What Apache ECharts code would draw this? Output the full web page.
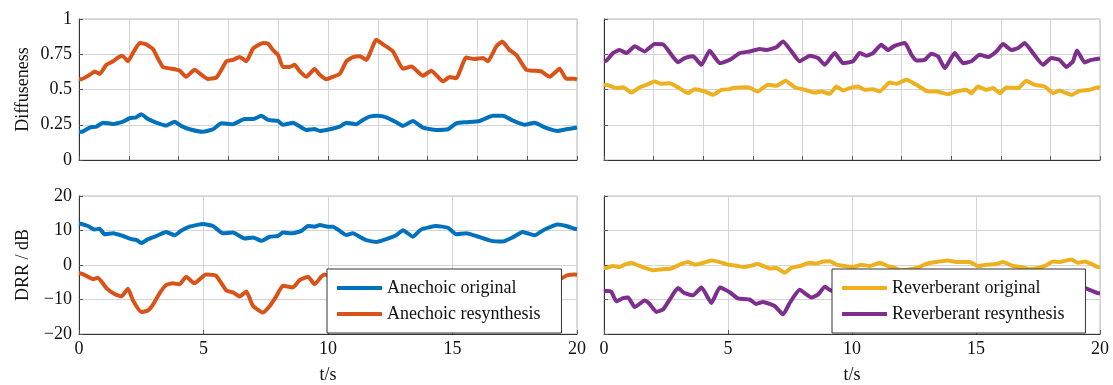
<!DOCTYPE html>
<html>
<head>
<meta charset="utf-8">
<script src="https://cdn.jsdelivr.net/npm/echarts@6/dist/echarts.min.js"></script>
<style>
  html, body { margin: 0; padding: 0; background: #fff; }
  #main { width: 1113px; height: 385px; }
</style>
</head>
<body>
<div id="main"></div>
<script>
// [t in s, value]
var diffAnechoicOrig = [[0,0.20],[0.1,0.20],[0.43,0.23],[0.7,0.237],[0.96,0.265],[1.37,0.256],[1.77,0.272],[2.03,0.296],[2.3,0.303],[2.5,0.325],[2.77,0.29],[3.1,0.265],[3.5,0.244],[3.84,0.272],[4.1,0.242],[4.44,0.218],[4.98,0.20],[5.38,0.218],[5.72,0.26],[6.18,0.254],[6.65,0.29],[6.99,0.29],[7.32,0.313],[7.59,0.284],[7.99,0.277],[8.19,0.25],[8.59,0.265],[9.13,0.213],[9.46,0.22],[9.67,0.206],[10.07,0.218],[10.47,0.237],[10.74,0.265],[11.14,0.254],[11.4,0.284],[11.67,0.308],[12.0,0.313],[12.34,0.303],[12.74,0.268],[13.01,0.242],[13.41,0.277],[13.81,0.23],[14.35,0.213],[14.82,0.218],[15.15,0.26],[15.55,0.268],[16.09,0.277],[16.62,0.313],[17.02,0.313],[17.42,0.28],[17.89,0.25],[18.3,0.265],[18.7,0.232],[19.23,0.206],[19.57,0.218],[20,0.23]];
var diffAnechoicResyn = [[0,0.575],[0.1,0.573],[0.43,0.604],[0.63,0.628],[0.83,0.61],[1.1,0.675],[1.37,0.70],[1.57,0.727],[1.74,0.74],[1.97,0.70],[2.17,0.76],[2.44,0.83],[2.7,0.82],[2.97,0.787],[3.17,0.72],[3.37,0.66],[3.64,0.65],[4.04,0.635],[4.3,0.59],[4.64,0.64],[4.91,0.605],[5.18,0.575],[5.52,0.585],[5.72,0.64],[5.92,0.70],[6.18,0.71],[6.45,0.73],[6.72,0.70],[6.99,0.79],[7.39,0.83],[7.59,0.825],[7.79,0.78],[7.99,0.746],[8.19,0.66],[8.46,0.66],[8.66,0.675],[8.86,0.63],[9.13,0.59],[9.46,0.645],[9.67,0.605],[9.93,0.573],[10.2,0.59],[10.47,0.61],[10.74,0.70],[11.0,0.73],[11.27,0.735],[11.54,0.71],[11.94,0.853],[12.21,0.82],[12.61,0.77],[13.01,0.647],[13.35,0.663],[13.81,0.597],[14.15,0.633],[14.62,0.557],[14.88,0.588],[15.15,0.58],[15.55,0.727],[15.89,0.716],[16.22,0.723],[16.42,0.70],[16.76,0.806],[17.0,0.84],[17.29,0.78],[17.56,0.746],[17.96,0.64],[18.3,0.633],[18.56,0.628],[18.9,0.59],[19.3,0.647],[19.57,0.576],[19.9,0.576],[20,0.57]];
var diffReverbOrig = [[0,0.53],[0.09,0.533],[0.5,0.51],[0.77,0.516],[1.1,0.478],[1.44,0.516],[1.78,0.538],[2.04,0.557],[2.31,0.54],[2.65,0.545],[2.98,0.516],[3.39,0.474],[3.66,0.502],[4.06,0.486],[4.4,0.462],[4.73,0.498],[5.07,0.502],[5.2,0.51],[5.47,0.514],[5.8,0.516],[6.2,0.486],[6.61,0.533],[6.95,0.526],[7.32,0.562],[7.69,0.516],[8.1,0.498],[8.5,0.478],[8.77,0.486],[9.1,0.469],[9.37,0.521],[9.64,0.493],[9.91,0.51],[10.25,0.521],[10.52,0.498],[10.85,0.502],[11.12,0.486],[11.52,0.55],[11.79,0.54],[12.2,0.569],[12.6,0.533],[13.07,0.486],[13.4,0.486],[13.87,0.467],[14.21,0.486],[14.61,0.498],[14.81,0.474],[15.08,0.521],[15.42,0.498],[15.69,0.51],[15.96,0.474],[16.22,0.514],[16.7,0.51],[17.03,0.562],[17.37,0.533],[17.77,0.521],[18.11,0.474],[18.37,0.493],[18.58,0.478],[18.85,0.462],[19.18,0.49],[19.58,0.498],[19.92,0.516],[20,0.51]];
var diffReverbResyn = [[0,0.70],[0.09,0.704],[0.36,0.758],[0.63,0.78],[0.9,0.758],[1.24,0.806],[1.64,0.77],[2.04,0.822],[2.38,0.82],[2.72,0.746],[2.98,0.694],[3.25,0.723],[3.59,0.735],[3.93,0.675],[4.26,0.775],[4.67,0.687],[5.07,0.71],[5.47,0.758],[5.87,0.77],[6.28,0.787],[6.55,0.78],[6.95,0.80],[7.22,0.84],[7.56,0.77],[7.89,0.70],[8.3,0.74],[8.63,0.723],[8.9,0.675],[9.3,0.758],[9.64,0.687],[10.04,0.70],[10.31,0.758],[10.58,0.74],[10.85,0.758],[11.18,0.817],[11.45,0.78],[11.72,0.81],[12.13,0.83],[12.4,0.746],[12.6,0.706],[12.93,0.71],[13.2,0.754],[13.47,0.735],[13.74,0.652],[14.14,0.758],[14.48,0.687],[14.81,0.70],[15.15,0.746],[15.49,0.73],[15.82,0.77],[16.09,0.822],[16.43,0.78],[16.7,0.794],[16.96,0.83],[17.3,0.758],[17.7,0.675],[18.04,0.723],[18.37,0.71],[18.64,0.66],[18.91,0.70],[19.07,0.777],[19.38,0.692],[19.65,0.71],[19.92,0.718],[20,0.72]];

var drrAnechoicOrig = [[0,12.0],[0.1,11.9],[0.36,11.3],[0.63,10.3],[0.83,10.5],[1.03,8.9],[1.37,9.2],[1.77,8.4],[2.1,7.5],[2.3,7.3],[2.5,6.35],[2.77,7.5],[3.1,8.4],[3.5,9.6],[3.84,8.6],[4.1,9.9],[4.44,11.1],[4.98,11.9],[5.38,11.3],[5.78,9.2],[6.18,9.4],[6.65,7.7],[6.99,8.0],[7.32,7.0],[7.66,8.2],[7.99,8.4],[8.19,9.4],[8.59,9.2],[8.93,9.9],[9.2,11.3],[9.46,11.1],[9.67,11.6],[10.0,11.1],[10.2,11.1],[10.47,9.9],[10.74,8.7],[11.0,9.2],[11.27,8.2],[11.54,7.2],[11.94,6.7],[12.34,7.5],[12.74,8.6],[13.01,10.1],[13.41,8.2],[13.74,10.3],[14.35,11.3],[14.82,10.8],[15.15,8.9],[15.55,9.2],[15.95,8.4],[16.55,7.0],[17.02,6.8],[17.42,8.0],[17.82,9.6],[18.3,8.6],[18.7,10.3],[19.23,11.75],[19.57,11.3],[19.9,10.5],[20,10.4]];
// middle part sits behind the legend, estimated
var drrAnechoicResyn = [[0,-2.4],[0.1,-2.5],[0.36,-3.4],[0.56,-4.1],[0.76,-3.7],[1.1,-6.7],[1.43,-8.4],[1.7,-9.1],[1.97,-6.9],[2.17,-10.3],[2.5,-13.6],[2.77,-13.2],[2.97,-11.5],[3.24,-8.15],[3.5,-5.8],[3.77,-5.3],[4.04,-5.6],[4.3,-3.4],[4.64,-5.3],[5.1,-2.75],[5.5,-3.1],[5.92,-7.4],[6.18,-7.9],[6.45,-9.1],[6.72,-7.7],[6.99,-11.9],[7.39,-13.8],[7.66,-11.9],[7.92,-9.1],[8.19,-6.0],[8.59,-6.5],[8.86,-4.4],[9.2,-3.4],[9.46,-5.6],[9.73,-3.4],[9.86,-2.75],[10.3,-4.5],[10.8,-7.5],[11.3,-9.0],[11.8,-12.5],[12.2,-13.2],[12.6,-10.5],[13.1,-6.5],[13.6,-5.0],[14.1,-4.0],[14.6,-3.0],[15.1,-3.5],[15.6,-6.5],[16.1,-8.5],[16.6,-11.0],[17.0,-13.0],[17.4,-11.5],[17.9,-8.0],[18.4,-6.0],[18.9,-4.5],[19.37,-3.9],[19.6,-3.0],[19.9,-2.75],[20,-2.8]];
var drrReverbOrig = [[0,-0.9],[0.09,-0.85],[0.36,-0.3],[0.63,-0.6],[0.83,0.1],[1.1,0.66],[1.37,-0.1],[1.7,-1.0],[1.97,-1.5],[2.38,-1.2],[2.72,-1.0],[3.05,0.1],[3.39,0.85],[3.66,0.1],[3.99,0.57],[4.33,1.3],[4.67,0.85],[5.0,0.1],[5.4,-0.3],[5.6,-0.6],[5.87,-0.3],[6.2,0.3],[6.68,-1.0],[6.95,-0.85],[7.28,-2.25],[7.55,-0.85],[7.89,-0.3],[8.3,0.66],[8.56,0.4],[8.83,1.0],[9.1,1.1],[9.37,0.1],[9.7,-0.3],[10.04,-0.6],[10.38,0.1],[10.71,-0.3],[11.12,0.66],[11.45,-0.3],[11.72,-0.85],[12.0,-1.5],[12.3,-1.3],[12.72,-0.6],[12.99,0.3],[13.39,0.85],[13.86,1.3],[14.2,0.85],[14.74,0.85],[15.08,-0.3],[15.42,0.1],[15.82,0.3],[16.09,0.85],[16.49,-0.3],[16.83,-0.6],[17.17,-1.2],[17.5,-0.85],[17.83,-0.1],[18.1,1.0],[18.37,0.85],[18.64,1.3],[18.85,1.6],[19.11,0.66],[19.38,1.0],[19.65,0.3],[19.92,-0.6],[20,-0.5]];
var drrReverbResyn = [[0,-7.6],[0.09,-7.5],[0.29,-7.7],[0.5,-10.5],[0.77,-9.6],[0.97,-9.4],[1.24,-12.2],[1.64,-10.3],[1.84,-11.3],[2.11,-13.6],[2.38,-12.9],[2.65,-10.0],[2.98,-6.7],[3.25,-8.15],[3.59,-8.8],[3.93,-6.5],[4.33,-11.0],[4.67,-6.5],[5.07,-7.9],[5.4,-9.7],[5.87,-10.0],[6.14,-11.3],[6.41,-10.7],[6.88,-11.9],[7.22,-14.3],[7.49,-11.0],[7.89,-7.2],[8.36,-9.4],[8.63,-8.6],[8.9,-6.3],[9.1,-7.2],[9.6,-9.0],[10.1,-10.5],[10.6,-8.0],[11.1,-11.0],[11.6,-12.5],[12.1,-9.5],[12.6,-7.5],[13.1,-8.5],[13.6,-11.0],[14.1,-9.0],[14.6,-12.0],[15.1,-10.0],[15.6,-8.0],[16.1,-9.5],[16.6,-11.5],[17.1,-10.0],[17.6,-8.0],[18.1,-7.5],[18.6,-6.5],[19.0,-7.0],[19.38,-6.7],[19.65,-7.4],[19.92,-8.15],[20,-8.2]];

var seriesNames = ['Anechoic original', 'Anechoic resynthesis', 'Reverberant original', 'Reverberant resynthesis'];
var colors = ['#0072BD', '#D95319', '#EDB120', '#7E2F8E'];

var FONT = 'Liberation Serif';
var txt = { fontFamily: FONT, fontSize: 18, color: '#111' };

function minusSign(v) {
    return v < 0 ? '\u2212' + Math.abs(v) : String(v);
}

function xAx(gi, bottom) {
    return {
        type: 'value', gridIndex: gi, min: 0, max: 20, interval: bottom ? 5 : 2,
        axisLine: { show: true, onZero: false, lineStyle: { color: '#333', width: 1 } },
        axisTick: { show: true, inside: true, length: 4, lineStyle: { color: '#555' } },
        axisLabel: { show: bottom, fontFamily: FONT, fontSize: 18, color: '#111', margin: 6 },
        splitLine: { show: true, lineStyle: { color: '#d4d4d4', width: 1 } },
        name: bottom ? 't/s' : '', nameLocation: 'middle', nameGap: 32,
        nameTextStyle: txt
    };
}

function yAx(gi, top, left) {
    return {
        type: 'value', gridIndex: gi,
        min: top ? 0 : -20, max: top ? 1 : 20, interval: top ? 0.25 : 10,
        axisLine: { show: true, onZero: false, lineStyle: { color: '#333', width: 1 } },
        axisTick: { show: true, inside: true, length: 4, lineStyle: { color: '#555' } },
        axisLabel: { show: left, fontFamily: FONT, fontSize: 18, color: '#111', margin: 7,
            formatter: top ? null : minusSign },
        splitLine: { show: true, lineStyle: { color: '#d4d4d4', width: 1 } },
        name: left ? (top ? 'Diffuseness' : 'DRR / dB') : '',
        nameLocation: 'middle', nameGap: 47, nameTextStyle: txt
    };
}

function line(name, idx, data, color) {
    return {
        name: name, type: 'line', xAxisIndex: idx, yAxisIndex: idx, data: data,
        symbol: 'none', showSymbol: false, smooth: 0.15,
        lineStyle: { color: color, width: 4 }, itemStyle: { color: color }
    };
}

function legendAt(left, names) {
    return {
        orient: 'vertical', left: left, top: 269, data: names, icon: 'rect',
        backgroundColor: '#fff', borderColor: '#333', borderWidth: 1, borderRadius: 0,
        padding: [10, 21, 10, 10], itemWidth: 45, itemHeight: 4, itemGap: 8,
        textStyle: { fontFamily: FONT, fontSize: 18, color: '#111', lineHeight: 18 }, selectedMode: false
    };
}

var chart = echarts.init(document.getElementById('main'));
chart.setOption({
    animation: false,
    backgroundColor: '#fff',
    grid: [
        { left: 79, top: 19, width: 498, height: 141, show: true, borderColor: '#b8b8b8', borderWidth: 1 },
        { left: 604, top: 19, width: 496, height: 141, show: true, borderColor: '#b8b8b8', borderWidth: 1 },
        { left: 79, top: 196, width: 498, height: 141, show: true, borderColor: '#b8b8b8', borderWidth: 1 },
        { left: 604, top: 196, width: 496, height: 141, show: true, borderColor: '#b8b8b8', borderWidth: 1 }
    ],
    xAxis: [xAx(0, false), xAx(1, false), xAx(2, true), xAx(3, true)],
    yAxis: [yAx(0, true, true), yAx(1, true, false), yAx(2, false, true), yAx(3, false, false)],
    legend: [
        legendAt(327, [seriesNames[0], seriesNames[1]]),
        legendAt(832, [seriesNames[2], seriesNames[3]])
    ],
    series: [
        line(seriesNames[0], 0, diffAnechoicOrig, colors[0]),
        line(seriesNames[1], 0, diffAnechoicResyn, colors[1]),
        line(seriesNames[2], 1, diffReverbOrig, colors[2]),
        line(seriesNames[3], 1, diffReverbResyn, colors[3]),
        line(seriesNames[0], 2, drrAnechoicOrig, colors[0]),
        line(seriesNames[1], 2, drrAnechoicResyn, colors[1]),
        line(seriesNames[2], 3, drrReverbOrig, colors[2]),
        line(seriesNames[3], 3, drrReverbResyn, colors[3])
    ]
});
</script>
</body>
</html>
